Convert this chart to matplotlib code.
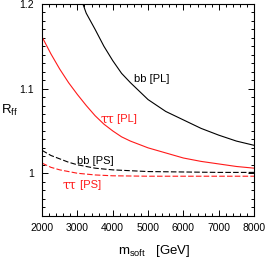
import matplotlib
matplotlib.use("Agg")
import matplotlib.pyplot as plt
from matplotlib.ticker import MultipleLocator, FuncFormatter

plt.rcParams['font.family'] = ['Liberation Sans', 'DejaVu Sans']
plt.rcParams['mathtext.fontset'] = 'custom'
plt.rcParams['mathtext.rm'] = 'Liberation Sans'

# curve data
m_bb_pl = [3000, 3250, 3500, 3750, 4000, 4250, 4500, 4750, 5000, 5500, 6000, 6500, 7000, 7500, 8000]
r_bb_pl = [1.218, 1.189, 1.170, 1.150, 1.133, 1.118, 1.107, 1.097, 1.087, 1.073, 1.063, 1.053, 1.045, 1.038, 1.033]

m_tt_pl = [2000, 2250, 2500, 2750, 3000, 3250, 3500, 3750, 4000, 4250, 4500, 5000, 5500, 6000, 6500, 7000, 7500, 8000]
r_tt_pl = [1.161, 1.141, 1.123, 1.107, 1.093, 1.080, 1.068, 1.058, 1.050, 1.043, 1.038, 1.030, 1.024, 1.018, 1.014, 1.011, 1.008, 1.006]

m_bb_ps = [2000, 2250, 2500, 2750, 3000, 3500, 4000, 4500, 5000, 6000, 7000, 8000]
r_bb_ps = [1.027, 1.021, 1.017, 1.013, 1.010, 1.006, 1.004, 1.003, 1.002, 1.0015, 1.001, 1.001]

m_tt_ps = [2000, 2250, 2500, 2750, 3000, 3500, 4000, 5000, 6000, 8000]
r_tt_ps = [1.012, 1.007, 1.004, 1.002, 1.000, 0.998, 0.997, 0.9965, 0.9965, 0.9965]

red = '#ff1a1a'

fig = plt.figure(figsize=(2.68, 2.61), dpi=100)
ax = fig.add_axes([0.157, 0.174, 0.791, 0.811])

ax.plot(m_bb_pl, r_bb_pl, color='black', lw=0.8)
ax.plot(m_tt_pl, r_tt_pl, color=red, lw=0.8)
ax.plot(m_bb_ps, r_bb_ps, color='black', lw=0.8, dashes=(5, 2))
ax.plot(m_tt_ps, r_tt_ps, color=red, lw=0.8, dashes=(5, 2))

ax.set_xlim(2000, 8000)
ax.set_ylim(0.95, 1.2)

ax.xaxis.set_major_locator(MultipleLocator(1000))
ax.xaxis.set_minor_locator(MultipleLocator(200))
ax.yaxis.set_major_locator(MultipleLocator(0.1))
ax.yaxis.set_minor_locator(MultipleLocator(0.01))
ax.yaxis.set_major_formatter(FuncFormatter(lambda v, p: f"{v:g}"))
ax.tick_params(which='both', direction='in', top=True, right=True, labelsize=7.5, width=0.7)
ax.tick_params(which='major', length=4)
ax.tick_params(which='minor', length=2)
ax.tick_params(axis='y', pad=6)
ax.tick_params(axis='x', pad=5)
for s in ax.spines.values():
    s.set_linewidth(0.8)

# curve labels
ax.text(4600, 1.111, "bb [PL]", fontsize=8, va='center', ha='left')
ax.text(4040, 1.0635, "ττ", fontsize=9, va='center', ha='right', color=red, family='DejaVu Serif')
ax.text(4040, 1.0635, " [PL]", fontsize=8, va='center', ha='left', color=red)
ax.text(2991, 1.014, "bb [PS]", fontsize=8, va='center', ha='left')
ax.text(2980, 0.986, "ττ", fontsize=9, va='center', ha='right', color=red, family='DejaVu Serif')
ax.text(2980, 0.986, " [PS]", fontsize=8, va='center', ha='left', color=red)

fig.text(1 / 268, 1 - 110 / 261, r"$\mathrm{R_{ff}}$", fontsize=9.5, va='center', ha='left')
fig.text(118 / 268, 1 - 251 / 261, r"$\mathrm{m_{soft}}$   [GeV]", fontsize=9.5, va='center', ha='left')

fig.savefig("out.png", dpi=100)
